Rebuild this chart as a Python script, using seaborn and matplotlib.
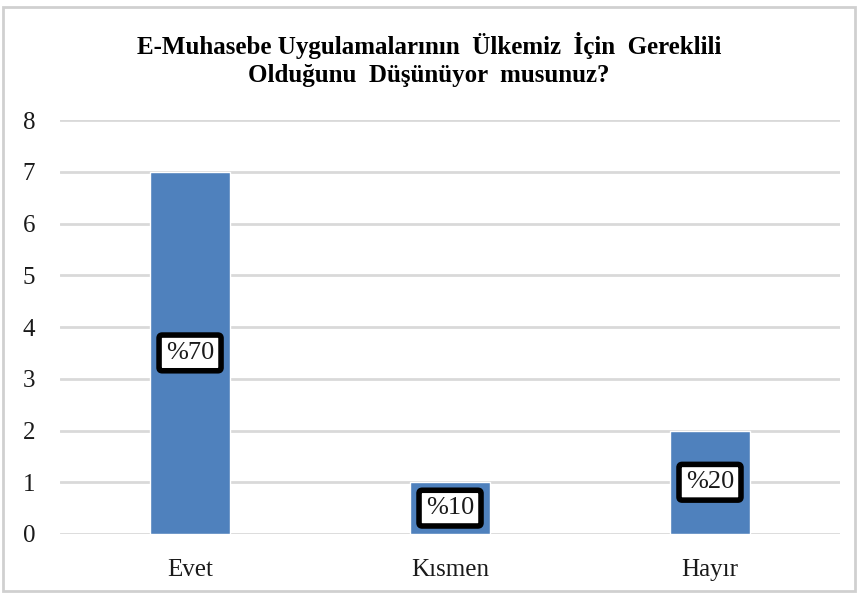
import matplotlib
matplotlib.use("Agg")
import matplotlib.pyplot as plt
import seaborn as sns
import pandas as pd
from matplotlib.patches import Rectangle

categories = ["Evet", "Kısmen", "Hayır"]
counts = [7, 1, 2]
pct_labels = ["%70", "%10", "%20"]
y_ticks = [0, 1, 2, 3, 4, 5, 6, 7, 8]
title = "E-Muhasebe Uygulamalarının  Ülkemiz  İçin  Gereklili\nOlduğunu  Düşünüyor  musunuz?"

sns.set_theme(style="white")
plt.rcParams['font.family'] = ['Liberation Serif', 'DejaVu Serif']
plt.rcParams['text.color'] = 'black'
plt.rcParams['xtick.color'] = '#1a1a1a'
plt.rcParams['ytick.color'] = '#1a1a1a'

df = pd.DataFrame({"cat": categories, "n": counts})

fig = plt.figure(figsize=(8.58, 5.93), dpi=100)
ax = fig.add_axes([0.07, 0.0995, 0.909, 0.698])
sns.barplot(data=df, x="cat", y="n", color="#4F81BD", saturation=1, width=0.31, ax=ax, zorder=3)

ax.set_ylim(0, 8)
ax.set_xlim(-0.5, 2.5)
ax.set_yticks(y_ticks)
ax.set_yticklabels([str(t) for t in y_ticks], fontsize=18)
ax.tick_params(axis='x', labelsize=18, pad=18, length=0)
ax.tick_params(axis='y', pad=18, length=0)
ax.set_xlabel("")
ax.set_ylabel("")
ax.yaxis.grid(True, color="#D9D9D9", linewidth=2, zorder=0)
for s in ax.spines.values():
    s.set_visible(False)

for i, (v, lab) in enumerate(zip(counts, pct_labels)):
    ax.text(i, v / 2, lab, ha="center", va="center", fontsize=19, zorder=5, color="#1a1a1a",
            bbox=dict(boxstyle="round,pad=0.26,rounding_size=0.12", facecolor="white",
                      edgecolor="black", linewidth=4))

fig.text(0.5, 0.9, title, ha="center", va="center", fontsize=18, fontweight="bold",
         linespacing=1.3, color="black")

fig.patches.append(Rectangle((0.004, 0.004), 0.992, 0.985, transform=fig.transFigure,
                             fill=False, edgecolor="#D0D0D0", linewidth=2))

fig.savefig("out.png", dpi=100)
